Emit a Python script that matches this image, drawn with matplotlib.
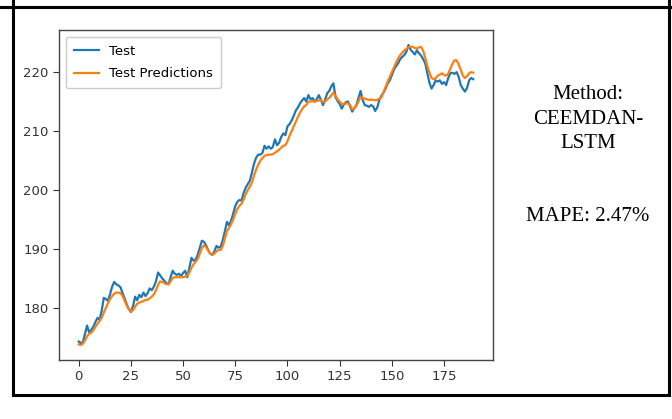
import matplotlib.pyplot as plt
from matplotlib.lines import Line2D

# test series and the model's predictions, one value per step
test = [
    174.3, 174.0, 174.2, 175.6, 177.0, 175.8, 176.3, 176.8, 177.6, 178.3,
    178.0, 179.5, 181.7, 181.5, 181.2, 182.3, 183.6, 184.4, 184.0, 183.8,
    183.5, 182.5, 181.6, 180.6, 179.8, 179.3, 180.3, 181.9, 181.3, 182.2,
    181.8, 182.6, 182.0, 182.5, 183.3, 183.0, 183.6, 184.5, 186.0, 185.5,
    185.0, 184.6, 184.2, 184.0, 185.2, 186.3, 185.8, 185.6, 185.8, 185.4,
    185.9, 186.3, 185.2, 186.8, 188.5, 188.0, 188.2, 189.0, 190.2, 191.4,
    191.2, 190.6, 189.8, 189.2, 189.0, 189.6, 190.5, 190.2, 190.4, 191.5,
    193.0, 194.6, 194.0, 194.8, 196.0, 197.3, 198.0, 198.3, 198.2, 199.5,
    200.4, 201.0, 201.6, 203.0, 204.5, 205.5, 206.0, 206.0, 206.3, 207.5,
    207.0, 207.4, 207.0, 207.3, 208.6, 207.6, 208.0, 209.0, 209.6, 209.3,
    210.8, 211.2, 211.8, 212.6, 213.5, 214.0, 214.7, 215.2, 215.6, 215.0,
    216.1, 215.4, 215.6, 215.0, 215.4, 216.1, 215.3, 214.4, 215.3, 216.4,
    216.8, 217.6, 218.1, 215.8, 215.1, 214.6, 213.8, 214.5, 214.9, 215.0,
    214.2, 213.3, 213.9, 214.4, 215.6, 216.8, 215.3, 214.4, 214.3, 214.1,
    214.4, 214.2, 213.4, 214.0, 215.3, 216.0, 216.5, 217.2, 218.1, 218.6,
    219.5, 220.4, 221.0, 221.5, 222.2, 222.6, 222.9, 223.5, 224.6, 223.8,
    223.4, 223.0, 223.7, 223.2, 222.8, 222.2, 221.5, 219.8, 218.2, 217.2,
    217.8, 218.6, 218.4, 218.6, 218.0, 218.3, 217.8, 219.0, 219.8, 219.9,
    219.7, 220.0, 219.2, 217.8, 217.2, 216.7, 217.3, 218.6, 219.0, 218.8,
]
predictions = [
    173.8, 173.7, 173.9, 174.5, 175.2, 175.6, 175.8, 176.2, 176.8, 177.3,
    177.8, 178.3, 179.2, 180.0, 180.8, 181.5, 182.0, 182.4, 182.6, 182.6,
    182.5, 182.0, 181.2, 180.4, 179.8, 179.4, 179.6, 180.2, 180.7, 180.9,
    181.0, 181.2, 181.3, 181.4, 181.6, 181.9, 182.3, 183.0, 183.9, 184.5,
    184.4, 184.2, 184.0, 184.0, 184.5, 185.1, 185.2, 185.2, 185.2, 185.2,
    185.2, 185.3, 185.5, 186.0, 186.8, 187.4, 187.8, 188.3, 189.2, 190.2,
    190.6, 190.3, 189.7, 189.2, 189.0, 189.2, 189.6, 189.8, 189.8, 190.5,
    191.8, 193.0, 193.6, 194.2, 195.0, 196.0, 196.8, 197.3, 197.7, 198.4,
    199.3, 200.0, 200.6, 201.3, 202.5, 203.5, 204.3, 205.0, 205.4, 205.8,
    205.9, 206.0, 206.0, 206.1, 206.3, 206.6, 206.8, 207.2, 207.5, 207.6,
    208.3, 209.2, 210.0, 210.8, 211.6, 212.4, 213.1, 213.7, 214.2, 214.4,
    215.0, 215.0, 215.1, 215.0, 215.1, 215.2, 215.2, 214.9, 215.0, 215.4,
    215.6, 216.1, 216.5, 216.0, 215.4, 215.0, 214.6, 214.6, 214.7, 214.7,
    214.4, 213.7, 213.8, 214.3, 215.0, 215.8, 215.6, 215.5, 215.4, 215.3,
    215.3, 215.3, 215.2, 215.3, 215.5, 215.7, 216.6, 217.5, 218.4, 219.2,
    220.0, 220.8, 221.6, 222.3, 222.9, 223.3, 223.7, 224.0, 224.2, 224.3,
    224.3, 224.1, 224.0, 224.2, 224.3, 223.6, 222.4, 221.0, 219.9, 219.0,
    218.8, 219.0, 219.4, 219.6, 219.8, 219.5, 219.4, 219.7, 220.6, 221.4,
    222.0, 222.0, 221.3, 220.4, 219.4, 219.0, 219.3, 219.8, 220.0, 219.9,
]
method_label = "Method:\nCEEMDAN-\nLSTM"
mape_label = "MAPE: 2.47%"

fig = plt.figure(figsize=(6.72, 4.19), dpi=100)
ax = fig.add_axes([59 / 672, 1 - 360 / 419, 434 / 672, 330 / 419])

ax.plot(range(len(test)), test, color="#1f77b4", lw=1.6, label="Test")
ax.plot(range(len(predictions)), predictions, color="#ff7f0e", lw=1.6,
        label="Test Predictions")

ax.set_xticks([0, 25, 50, 75, 100, 125, 150, 175])
ax.set_yticks([180, 190, 200, 210, 220])
ax.tick_params(labelsize=9.5, colors="#333333", length=4, width=0.8)
for s in ax.spines.values():
    s.set_color("#444444")
    s.set_linewidth(1.0)
ax.legend(loc="upper left", fontsize=9.5, framealpha=1, borderpad=0.6,
          labelspacing=0.75, handlelength=1.9)

# table cell borders around the figure
lw = 2.2
W, H = 672, 419
fig.add_artist(Line2D([0, 1], [1 - 7 / H, 1 - 7 / H], color="black", lw=lw))
fig.add_artist(Line2D([13 / W, 669 / W], [1 - 395 / H, 1 - 395 / H], color="black", lw=lw))
fig.add_artist(Line2D([13 / W, 13 / W], [1, 1 - 395 / H], color="black", lw=lw))
fig.add_artist(Line2D([669 / W, 669 / W], [1, 1 - 395 / H], color="black", lw=lw))

fig.text(588 / W, 1 - 119 / H, method_label, ha="center", va="center",
         family="Liberation Serif", fontsize=15, linespacing=1.4)
fig.text(588 / W, 1 - 216 / H, mape_label, ha="center", va="center",
         family="Liberation Serif", fontsize=15)

fig.savefig("out.png", dpi=100)
